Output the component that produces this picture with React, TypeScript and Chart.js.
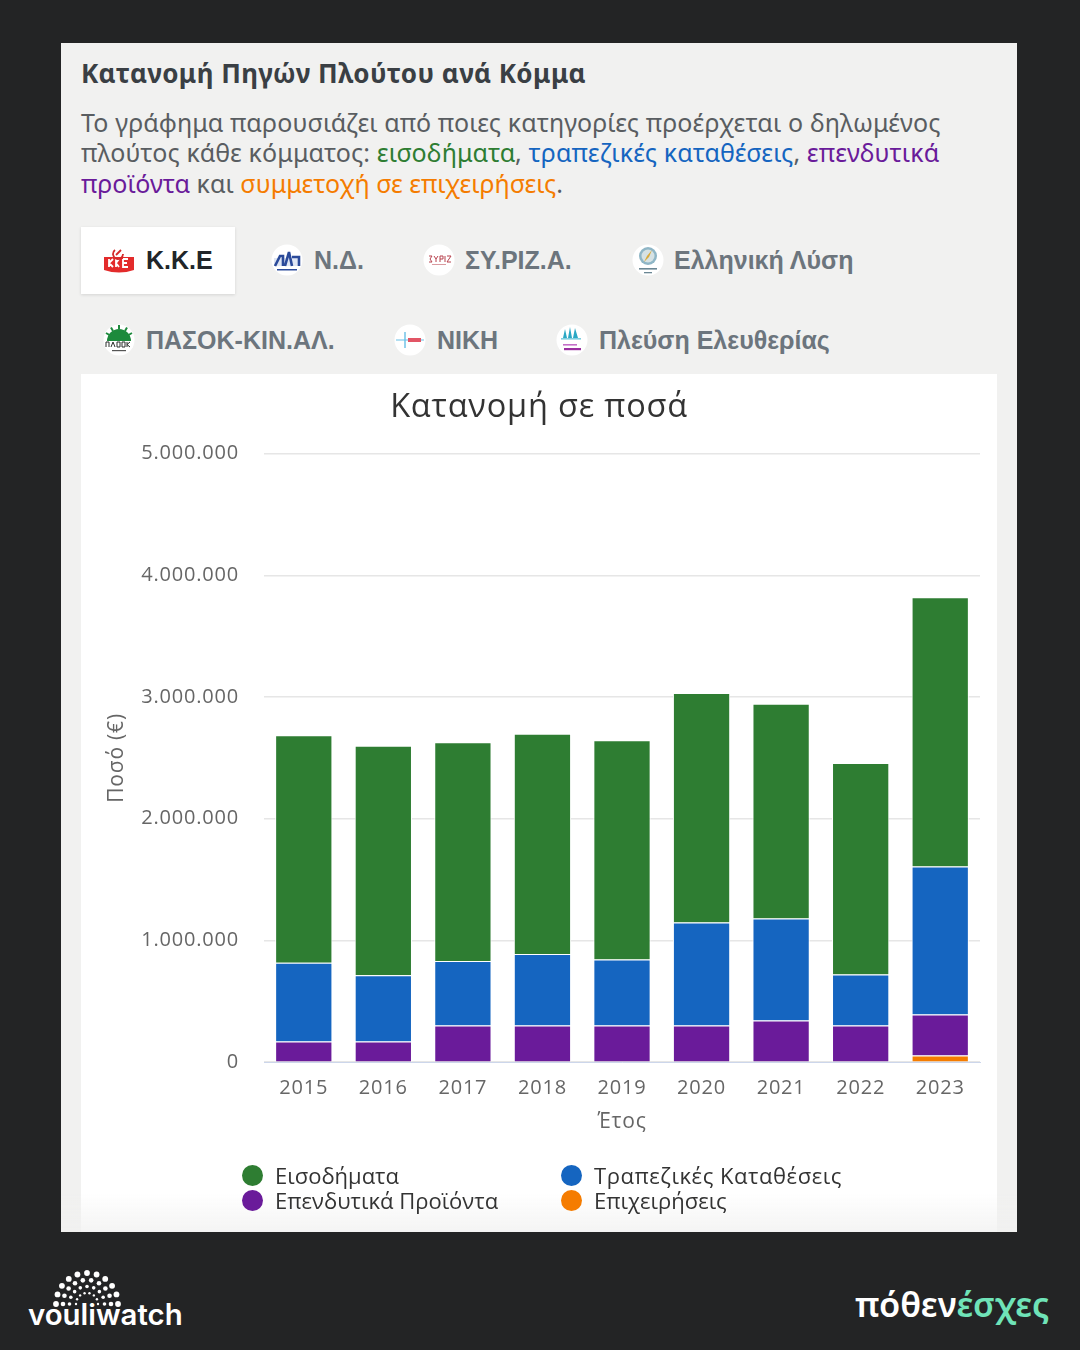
import React, { useEffect, useRef } from "react";
import { Chart, registerables } from "chart.js";

Chart.register(...registerables);

const years = ["2015", "2016", "2017", "2018", "2019", "2020", "2021", "2022", "2023"];
const epixeiriseis = [0, 0, 0, 0, 0, 0, 0, 0, 55000];
const ependytika = [170000, 170000, 300000, 300000, 300000, 300000, 342000, 300000, 336000];
const trapezikes = [646000, 544000, 531000, 588000, 543000, 847000, 838000, 420000, 1216000];
const eisodimata = [1870000, 1886000, 1798000, 1811000, 1802000, 1886000, 1765000, 1738000, 2214000];

const GREEN = "#2e7d32";
const BLUE = "#1565c0";
const PURPLE = "#6a1b9a";
const ORANGE = "#f57c00";

const legendItems = [
  { label: "Εισοδήματα", color: GREEN, x: 242, y: 1175 },
  { label: "Τραπεζικές Καταθέσεις", color: BLUE, x: 561, y: 1175 },
  { label: "Επενδυτικά Προϊόντα", color: PURPLE, x: 242, y: 1200 },
  { label: "Επιχειρήσεις", color: ORANGE, x: 561, y: 1200 },
];

const OPEN = "'Open Sans', 'Noto Sans', sans-serif";
const NOTO = "'Noto Sans', sans-serif";
const ARIAL = "'Liberation Sans', Arial, sans-serif";

function abs(x: number, y: number, extra: React.CSSProperties = {}): React.CSSProperties {
  return { position: "absolute", left: x, top: y, whiteSpace: "nowrap", ...extra };
}

function Logo({ cx, cy, kind }: { cx: number; cy: number; kind: string }) {
  const r = 16;
  return (
    <svg style={abs(cx - r, cy - r)} width={r * 2} height={r * 2} viewBox="0 0 32 32">
      {kind !== "kke" && <circle cx="16" cy="16" r="15.5" fill="#fff" />}
      {kind === "kke" && (
        <g>
          <path d="M1 13 H31 V26 Q16 31 1 26 Z" fill="#e32b2b" />
          <path d="M6 15v8M6 19l4-4M6 19l4 4M13 15v8M13 19l3-4M13 19l3 4M20 15v8h5M20 15h5M20 19h4" stroke="#fff" strokeWidth="1.8" fill="none" />
          <path d="M12 6 A5 5 0 1 0 20 10" stroke="#d42a2a" strokeWidth="1.8" fill="none" />
          <path d="M13 11 L18 6" stroke="#d42a2a" strokeWidth="1.8" />
        </g>
      )}
      {kind === "nd" && (
        <g>
          <path d="M3 14 H29 V22 H3 Z" fill="#dfe6f4" />
          <path d="M4 22 L9 12 H12 L12 22 M14 22 L18 8 L21 22 M21 13 H28 V22" stroke="#2b4a9a" strokeWidth="2.6" fill="none" />
          <rect x="6" y="25" width="20" height="1.5" fill="#2b4a9a" />
        </g>
      )}
      {kind === "syriza" && (
        <g>
          <path d="M6 12 H9 L7 15 L9 18 H6 M11 12 L13 15 L15 12 M13 15 V18 M17 18 V12 H20 V15 H17 M22 12 V18 M24 12 H28 L24 18 H28" stroke="#b8434f" strokeWidth="1" fill="none" />
          <rect x="9" y="20" width="14" height="1" fill="#d99aa0" />
        </g>
      )}
      {kind === "el" && (
        <g>
          <circle cx="16" cy="12" r="9" fill="#8fb6c6" />
          <circle cx="16" cy="12" r="6.5" fill="#d6e2e4" />
          <path d="M20 6 L15 12 L12 18 L17 13 Z" fill="#d9a93a" />
          <rect x="7" y="24" width="18" height="1.6" fill="#6b8794" />
          <rect x="12" y="28" width="8" height="1.3" fill="#6b8794" />
        </g>
      )}
      {kind === "pasok" && (
        <g>
          <path d="M4 17 A12 12 0 0 1 28 17 Z" fill="#1d8a3c" />
          <path d="M16 1v4M8 3.5l2 3.5M24 3.5l-2 3.5M3 9l3.5 2M29 9l-3.5 2" stroke="#1d8a3c" strokeWidth="2" />
          <rect x="2" y="17" width="28" height="6.5" fill="#fff" />
          <path d="M3 18h3v5M3 18v5M8 23l2-5 2 5M14 18h3v5h-3zM19 18h3v5h-3zM24 18v5M24 20.5l3-2.5M24 20.5l3 2.5" stroke="#2a2f2c" strokeWidth="1" fill="none" />
          <rect x="9" y="26" width="14" height="1.2" fill="#555" />
        </g>
      )}
      {kind === "niki" && (
        <g>
          <path d="M2 16 H30" stroke="#67bfe6" strokeWidth="1" />
          <path d="M11 8 V24" stroke="#67bfe6" strokeWidth="1.4" />
          <rect x="14" y="14" width="13" height="4" fill="#e25565" />
        </g>
      )}
      {kind === "plefsi" && (
        <g>
          <path d="M7 14 L9 5 L11 14 Z M12 14 L14 3 L16 14 Z M17 14 L19 4 L22 14 Z" fill="#2aa8c4" />
          <rect x="5" y="14" width="20" height="1.6" fill="#7fcfe0" />
          <rect x="7" y="20" width="14" height="1.6" fill="#c46fc8" />
          <rect x="8" y="24" width="17" height="2.2" fill="#9a2fa0" />
        </g>
      )}
    </svg>
  );
}

const tabs = [
  { label: "Κ.Κ.Ε", kind: "kke", lx: 119, tx: 146, cy: 260, active: true },
  { label: "Ν.Δ.", kind: "nd", lx: 287, tx: 314, cy: 260, active: false },
  { label: "ΣΥ.ΡΙΖ.Α.", kind: "syriza", lx: 439, tx: 465, cy: 260, active: false },
  { label: "Ελληνική Λύση", kind: "el", lx: 648, tx: 674, cy: 260, active: false },
  { label: "ΠΑΣΟΚ-ΚΙΝ.ΑΛ.", kind: "pasok", lx: 119, tx: 146, cy: 340, active: false },
  { label: "ΝΙΚΗ", kind: "niki", lx: 410, tx: 437, cy: 340, active: false },
  { label: "Πλεύση Ελευθερίας", kind: "plefsi", lx: 572, tx: 599, cy: 340, active: false },
];

function Dots() {
  const rings = [
    { r: 31, n: 11, d: 2.9 },
    { r: 24, n: 10, d: 2.3 },
    { r: 17.5, n: 9, d: 1.8 },
    { r: 11, n: 8, d: 1.2 },
  ];
  const out: React.ReactNode[] = [];
  rings.forEach((ring, i) => {
    for (let k = 0; k < ring.n; k++) {
      const a = Math.PI * (k / (ring.n - 1));
      out.push(
        <circle
          key={i + "-" + k}
          cx={50 + ring.r * Math.cos(a)}
          cy={39 - ring.r * Math.sin(a)}
          r={ring.d}
          fill="#fff"
        />
      );
    }
  });
  return (
    <svg style={abs(37, 1265)} width={100} height={44} viewBox="0 0 100 44">
      {out}
    </svg>
  );
}

const letterSpacingPlugin = {
  id: "letterSpacing",
  beforeLayout(chart: any) {
    chart.ctx.letterSpacing = "0.8px";
  },
  beforeDraw(chart: any) {
    chart.ctx.letterSpacing = "0.8px";
  },
};

export default function App() {
  const ref = useRef<HTMLCanvasElement | null>(null);

  useEffect(() => {
    document.body.style.margin = "0";
    document.body.style.background = "#232425";
    const canvas = ref.current;
    if (!canvas) return;
    const chart = new Chart(canvas, {
      type: "bar",
      plugins: [letterSpacingPlugin],
      data: {
        labels: years,
        datasets: [
          { label: "Επιχειρήσεις", data: epixeiriseis, backgroundColor: ORANGE },
          { label: "Επενδυτικά Προϊόντα", data: ependytika, backgroundColor: PURPLE },
          { label: "Τραπεζικές Καταθέσεις", data: trapezikes, backgroundColor: BLUE },
          { label: "Εισοδήματα", data: eisodimata, backgroundColor: GREEN },
        ].map((d) => ({
          ...d,
          borderColor: "#ffffff",
          borderWidth: 1,
          barPercentage: 0.9,
          categoryPercentage: 0.8,
        })),
      },
      options: {
        responsive: false,
        animation: false,
        layout: { padding: { left: 17, right: 17, top: 0, bottom: 102.8 } },
        plugins: {
          legend: { display: false },
          tooltip: { enabled: false },
          title: {
            display: true,
            text: "Κατανομή σε ποσά",
            color: "#333333",
            font: { family: OPEN, size: 32.5, weight: "normal" },
            padding: { top: 14, bottom: 26.7 },
          },
        },
        scales: {
          x: {
            stacked: true,
            grid: { display: false, drawTicks: false },
            border: { color: "#ccd6eb", width: 1 },
            ticks: {
              color: "#666666",
              padding: 14.5,
              font: { family: OPEN, size: 20 },
              maxRotation: 0,
            },
            title: {
              display: true,
              text: "Έτος",
              color: "#666666",
              font: { family: OPEN, size: 21, lineHeight: 0.67 },
              padding: { top: 0, bottom: 0 },
            },
          },
          y: {
            stacked: true,
            min: 0,
            max: 5000000,
            afterFit: (s: any) => {
              s.width = 166;
            },
            grid: { color: "#e6e6e6", lineWidth: 1.5, drawTicks: false },
            border: { display: false },
            ticks: {
              stepSize: 1000000,
              color: "#666666",
              padding: 25,
              font: { family: OPEN, size: 20 },
              callback: (v: any) => String(v).replace(/\B(?=(\d{3})+(?!\d))/g, "."),
            },
            title: {
              display: true,
              text: "Ποσό (€)",
              color: "#666666",
              font: { family: OPEN, size: 21 },
              padding: { top: 6, bottom: 13 },
            },
          },
        },
      },
    });
    return () => chart.destroy();
  }, []);

  const desc: React.CSSProperties = {
    fontFamily: NOTO,
    fontSize: 25,
    letterSpacing: 0.12,
    color: "#595d61",
    lineHeight: "30px",
  };

  return (
    <div style={{ position: "absolute", left: 0, top: 0, width: 1080, height: 1350, background: "#232425", overflow: "hidden" }}>
      <div style={abs(61, 43, { width: 956, height: 1189, background: "#f1f1f0" })} />
      <div style={abs(81, 55, { fontFamily: NOTO, fontWeight: 700, fontSize: 26, letterSpacing: 0.45, color: "#3a3f44" })}>
        Κατανομή Πηγών Πλούτου ανά Κόμμα
      </div>
      <div style={abs(81, 107, desc)}>Το γράφημα παρουσιάζει από ποιες κατηγορίες προέρχεται ο δηλωμένος</div>
      <div style={abs(81, 137, desc)}>
        πλούτος κάθε κόμματος: <span style={{ color: GREEN }}>εισοδήματα</span>,{" "}
        <span style={{ color: BLUE }}>τραπεζικές καταθέσεις</span>, <span style={{ color: PURPLE }}>επενδυτικά</span>
      </div>
      <div style={abs(81, 168, { ...desc, letterSpacing: 0 })}>
        <span style={{ color: PURPLE }}>προϊόντα</span> και{" "}
        <span style={{ color: ORANGE }}>συμμετοχή σε επιχειρήσεις</span>.
      </div>

      <div style={abs(81, 227, { width: 154, height: 67, background: "#fff", boxShadow: "0 1px 3px rgba(0,0,0,0.12)" })} />
      {tabs.map((t) => (
        <React.Fragment key={t.label}>
          <Logo cx={t.lx} cy={t.cy} kind={t.kind} />
          <div
            style={abs(t.tx, t.cy - 16, {
              fontFamily: ARIAL,
              fontWeight: 700,
              fontSize: 25,
              lineHeight: "32px",
              color: t.active ? "#212529" : "#6c757d",
            })}
          >
            {t.label}
          </div>
        </React.Fragment>
      ))}

      <div style={abs(81, 374, { width: 916, height: 858, background: "#fff" })}>
        <canvas ref={ref} width={916} height={858} style={{ display: "block" }} />
      </div>

      <div style={abs(61, 1192, { width: 956, height: 40, background: "linear-gradient(rgba(241,241,240,0), rgba(241,241,240,0.75))" })} />

      {legendItems.map((it) => (
        <React.Fragment key={it.label}>
          <div style={abs(it.x, it.y - 10.5, { width: 21, height: 21, borderRadius: "50%", background: it.color })} />
          <div
            style={abs(it.x + 33, it.y - 14, {
              fontFamily: OPEN,
              fontSize: 22,
              lineHeight: "28px",
              letterSpacing: it.label.length > 20 ? 0.55 : 0,
              color: "#333333",
            })}
          >
            {it.label}
          </div>
        </React.Fragment>
      ))}

      <Dots />
      <div style={abs(28, 1296, { fontFamily: "Inter, sans-serif", fontWeight: 600, fontSize: 29.4, lineHeight: "38px", color: "#fff" })}>
        vouliwatch
      </div>
      <div style={abs(855, 1282, { fontFamily: NOTO, fontWeight: 600, fontSize: 34.4, lineHeight: "44px", color: "#fff" })}>
        πόθεν<span style={{ color: "#6fe3b8" }}>έσχες</span>
      </div>
    </div>
  );
}
